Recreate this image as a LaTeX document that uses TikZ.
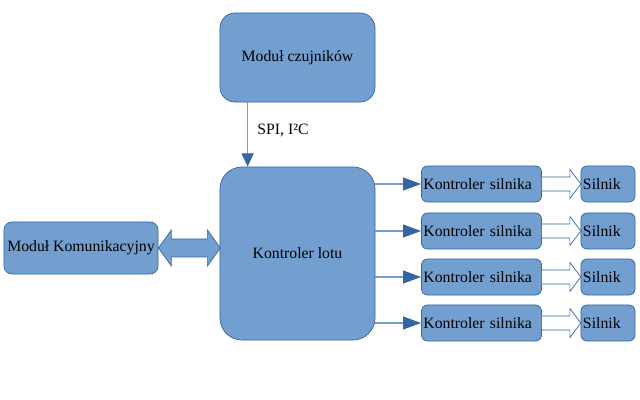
\documentclass[tikz,border=0pt]{standalone}
\usepackage{fontspec}
\setmainfont{Liberation Serif}
\usetikzlibrary{arrows.meta,calc}
\definecolor{boxfill}{HTML}{729FCF}
\definecolor{boxline}{HTML}{3465A4}
\tikzset{
  blok/.style={draw=boxline, fill=boxfill, line width=0.5pt, inner sep=1pt,
    font=\fontsize{11.2}{13}\selectfont},
  modul/.style={blok, rounded corners=0.375cm, minimum width=3.875cm, minimum height=2.225cm},
  lot/.style={blok, rounded corners=0.55cm, minimum width=3.875cm, minimum height=4.325cm},
  kom/.style={blok, rounded corners=0.2cm, minimum width=3.85cm, minimum height=1.3cm},
  ksil/.style={blok, rounded corners=0.15cm, minimum width=3cm, minimum height=0.9cm,
    text width=2.9cm, align=left},
  sil/.style={blok, rounded corners=0.15cm, minimum width=1.35cm, minimum height=0.9cm,
    text width=1.25cm, align=left},
  lbl/.style={font=\fontsize{11.2}{13}\selectfont},
  sig/.style={draw=boxfill, line width=0.8pt,
    -{Triangle[length=0.33cm,width=0.3cm,color=boxline]}},
  sigr/.style={sig, -{Triangle[length=0.45cm,width=0.32cm,color=boxline]}},
  fat/.style={draw=boxline, fill=boxfill, line width=0.5pt},
  hollow/.style={draw=boxline, fill=white, line width=0.5pt}
}
\begin{document}
\begin{tikzpicture}[x=0.025cm,y=-0.025cm]
\useasboundingbox (0,0) rectangle (640,400);

\node[modul] (czuj) at (297.5,57.5) {Moduł czujników};
\node[lot] (lotu) at (297.5,253.5) {Kontroler lotu};
\node[kom] (kom) at (81,248) {Moduł Komunikacyjny};

\draw[sig] ([xshift=0.7cm]czuj.south west) -- ([xshift=0.7cm]lotu.north west);
\node[lbl] (spi) at (283,130) {SPI, I²C};

\draw[fat] (kom.east) -- ++(13,-18) -- ++(0,9) -- ++(36,0) -- ++(0,-9) -- ++(13,18)
  -- ++(-13,18) -- ++(0,-9) -- ++(-36,0) -- ++(0,9) -- cycle;

\node[ksil] (ks1) at (481.5,184) {Kontroler silnika};
\node[ksil] (ks2) at (481.5,231) {Kontroler silnika};
\node[ksil] (ks3) at (481.5,277) {Kontroler silnika};
\node[ksil] (ks4) at (481.5,323) {Kontroler silnika};

\node[sil] (s1) at (608,184) {Silnik};
\node[sil] (s2) at (608,231) {Silnik};
\node[sil] (s3) at (608,277) {Silnik};
\node[sil] (s4) at (608,323) {Silnik};

\draw[sigr] (lotu.east |- ks1.west) -- (ks1.west);
\draw[sigr] (lotu.east |- ks2.west) -- (ks2.west);
\draw[sigr] (lotu.east |- ks3.west) -- (ks3.west);
\draw[sigr] (lotu.east |- ks4.west) -- (ks4.west);

\draw[hollow] (ks1.east) ++(0,-7) -- ++(28,0) -- ++(0,-7.5) -- ++(11,14.5) -- ++(-11,14.5) -- ++(0,-7.5) -- ++(-28,0);
\draw[hollow] (ks2.east) ++(0,-7) -- ++(28,0) -- ++(0,-7.5) -- ++(11,14.5) -- ++(-11,14.5) -- ++(0,-7.5) -- ++(-28,0);
\draw[hollow] (ks3.east) ++(0,-7) -- ++(28,0) -- ++(0,-7.5) -- ++(11,14.5) -- ++(-11,14.5) -- ++(0,-7.5) -- ++(-28,0);
\draw[hollow] (ks4.east) ++(0,-7) -- ++(28,0) -- ++(0,-7.5) -- ++(11,14.5) -- ++(-11,14.5) -- ++(0,-7.5) -- ++(-28,0);
\end{tikzpicture}
\end{document}
